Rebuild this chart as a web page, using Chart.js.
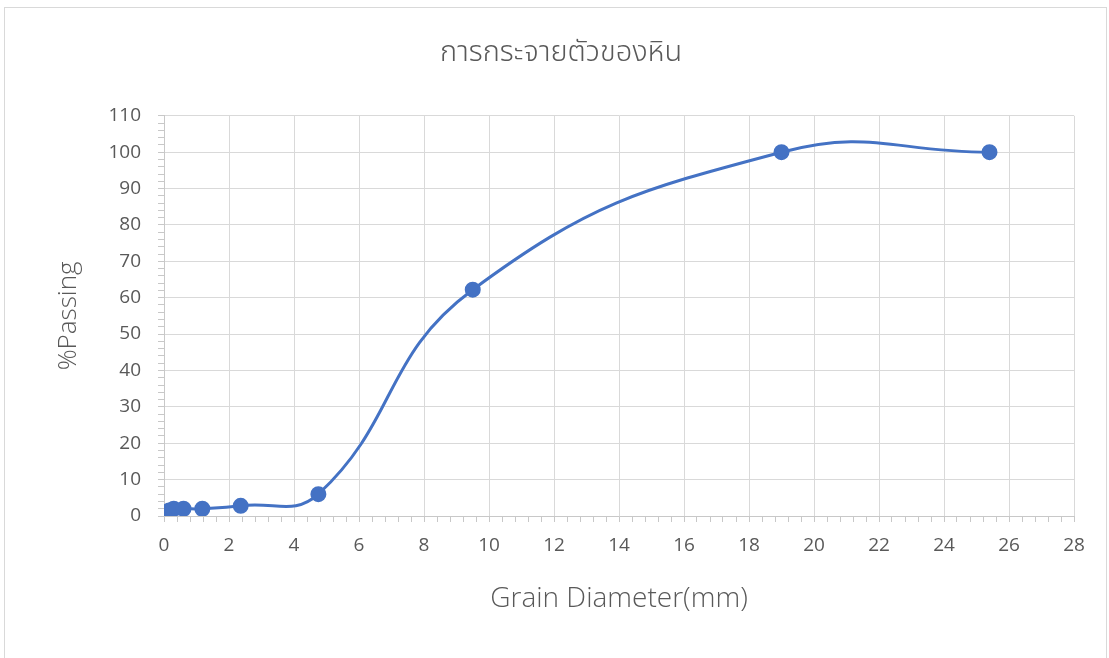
<!DOCTYPE html>
<html>
<head>
<meta charset="utf-8">
<script src="https://cdn.jsdelivr.net/npm/chart.js@4/dist/chart.umd.min.js"></script>
<style>
  html, body { margin: 0; padding: 0; background: #ffffff; }
  #wrap { position: relative; width: 1109px; height: 658px; overflow: hidden; }
  #frame { position: absolute; left: 4px; top: 7px; right: 2px; bottom: -5px; border: 1px solid #d9d9d9; pointer-events: none; }
  canvas { position: absolute; left: 0; top: 0; }
</style>
</head>
<body>
<div id="wrap">
  <canvas id="c" width="1109" height="658"></canvas>
  <div id="frame"></div>
</div>
<script>
const chartTitle = 'การกระจายตัวของหิน';
const xTitle = 'Grain Diameter(mm)';
const yTitle = '%Passing';
const grainDiameter = [0.075, 0.15, 0.3, 0.6, 1.18, 2.36, 4.75, 9.5, 19, 25.4];
const percentPassing = [0, 1.5, 2, 2, 2, 2.8, 6, 62.2, 100, 100];
const xMin = 0, xMax = 28, xMajor = 2, xMinor = 0.4;
const yMin = 0, yMax = 110, yMajor = 10, yMinor = 2;

const points = grainDiameter.map((x, i) => ({ x: x, y: percentPassing[i] }));
const isMajor = (v, step) => Math.abs(v / step - Math.round(v / step)) < 1e-6;
const textColor = '#595959';
const fontFam = '"Open Sans", "Noto Sans", sans-serif';

new Chart(document.getElementById('c'), {
  type: 'scatter',
  data: {
    datasets: [{
      data: points,
      showLine: true,
      borderColor: '#4472C4',
      backgroundColor: '#4472C4',
      borderWidth: 3,
      pointRadius: 6.5,
      pointHoverRadius: 6.5,
      tension: 0.45,
      yAxisID: 'y'
    }]
  },
  options: {
    responsive: false,
    animation: false,
    layout: { padding: { left: 13, right: 0, top: 0, bottom: 0 } },
    plugins: {
      legend: { display: false },
      tooltip: { enabled: false },
      title: {
        display: true,
        text: chartTitle,
        color: textColor,
        font: { family: '"Noto Sans Thai", "Noto Sans", ' + fontFam, size: 29, weight: 300 },
        padding: { top: 38, bottom: 43 }
      }
    },
    scales: {
      x: {
        type: 'linear',
        min: xMin, max: xMax,
        afterFit: s => { s.height = 142; },
        ticks: {
          stepSize: xMinor,
          autoSkip: false,
          maxRotation: 0,
          padding: 12,
          color: textColor,
          font: { family: fontFam, size: 19 },
          callback: v => isMajor(v, xMajor) ? String(Math.round(v)) : ''
        },
        grid: {
          color: c => isMajor(c.tick.value, xMajor) ? '#d9d9d9' : 'rgba(0,0,0,0)',
          tickColor: '#c8c8c8',
          tickLength: 6,
          lineWidth: 1
        },
        border: { color: '#c8c8c8' },
        title: {
          display: true,
          text: xTitle,
          color: textColor,
          font: { family: fontFam, size: 28, weight: 300 },
          padding: 42
        }
      },
      y: {
        type: 'linear',
        position: 'left',
        min: yMin, max: yMax,
        afterFit: s => { s.width = 151; },
        ticks: {
          stepSize: yMinor,
          autoSkip: false,
          padding: 17,
          color: textColor,
          font: { family: fontFam, size: 19 },
          callback: v => isMajor(v, yMajor) ? String(Math.round(v)) : ''
        },
        grid: {
          color: c => isMajor(c.tick.value, yMajor) ? '#d9d9d9' : 'rgba(0,0,0,0)',
          tickColor: '#c8c8c8',
          tickLength: 6,
          lineWidth: 1
        },
        border: { color: '#c8c8c8' },
        title: {
          display: true,
          text: yTitle,
          color: textColor,
          font: { family: fontFam, size: 26, weight: 300 },
          padding: 40
        }
      },
      yRightSpace: {
        type: 'linear',
        position: 'right',
        min: yMin, max: yMax,
        afterFit: s => { s.width = 35; },
        ticks: { display: false },
        grid: { display: false, drawOnChartArea: false },
        border: { display: false }
      }
    }
  }
});
</script>
</body>
</html>
